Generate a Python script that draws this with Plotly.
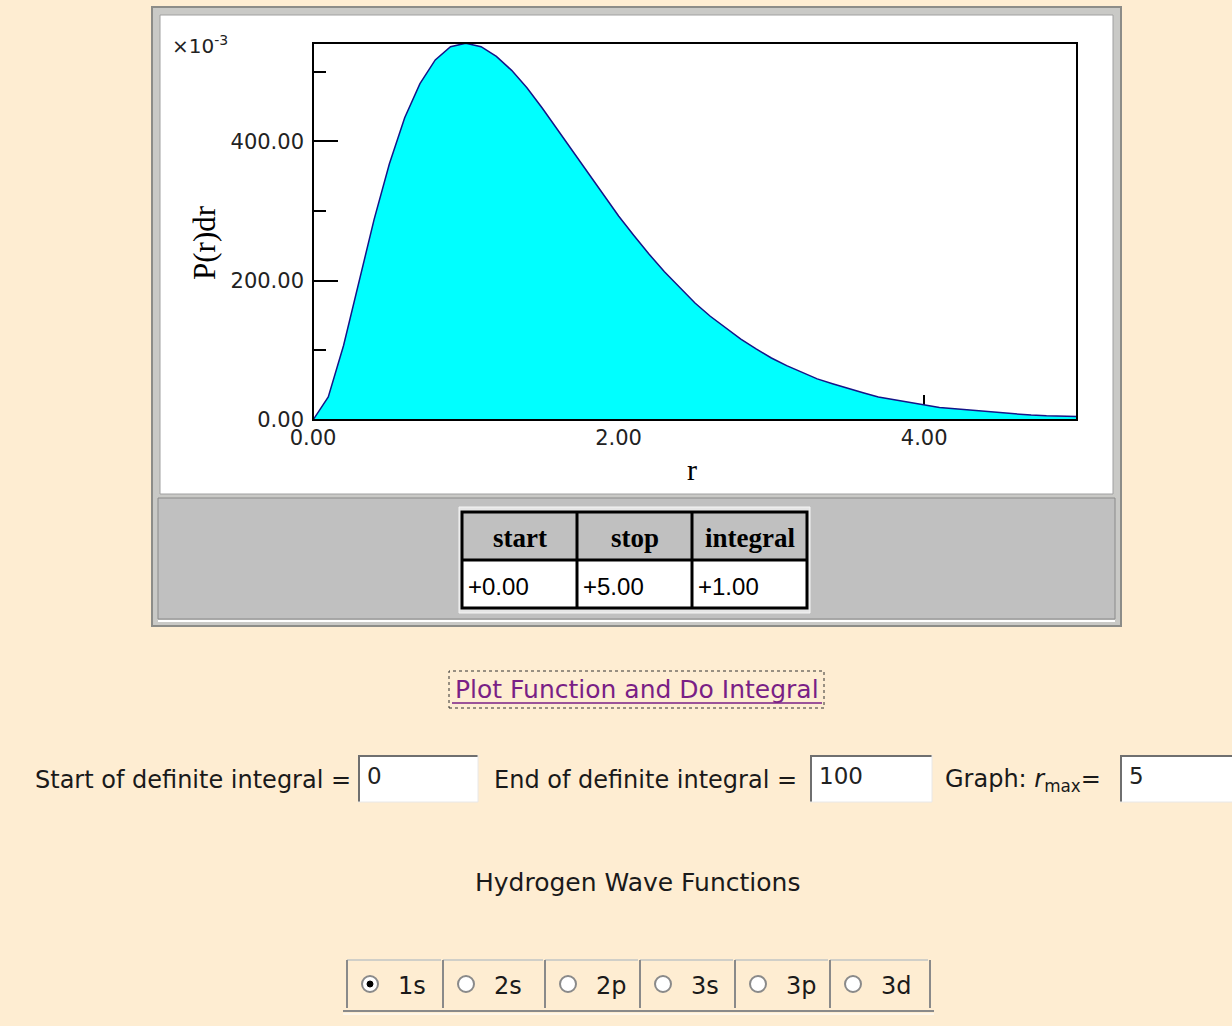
import plotly.graph_objects as go

# Radial probability P(r)dr for the hydrogen 1s state, in units of 1e-3
r_values = [0.0, 0.1, 0.2, 0.3, 0.4, 0.5, 0.6, 0.7, 0.8, 0.9,
            1.0, 1.1, 1.2, 1.3, 1.4, 1.5, 1.6, 1.7, 1.8, 1.9,
            2.0, 2.1, 2.2, 2.3, 2.4, 2.5, 2.6, 2.7, 2.8, 2.9,
            3.0, 3.1, 3.2, 3.3, 3.4, 3.5, 3.6, 3.7, 3.8, 3.9,
            4.0, 4.1, 4.2, 4.3, 4.4, 4.5, 4.6, 4.7, 4.8, 4.9, 5.0]
p_values = [0, 33, 107, 198, 288, 368, 434, 483, 517, 536,
            541, 536, 522, 502, 477, 448, 417, 386, 354, 323,
            293, 265, 238, 213, 190, 168, 149, 132, 116, 102,
            89, 78, 68, 59, 52, 45, 39, 33, 29, 25,
            21, 18, 16, 14, 12, 10, 9, 7, 6, 5, 5]

x_ticks = [0, 2, 4]
x_tick_labels = ["0.00", "2.00", "4.00"]
x_minor = [1, 3, 5]
y_ticks = [0, 200, 400]
y_tick_labels = ["0.00", "200.00", "400.00"]
y_minor = [100, 300, 500]
y_top = 541.3

table_header = ["start", "stop", "integral"]
table_row = ["+0.00", "+5.00", "+1.00"]
states = ["1s", "2s", "2p", "3s", "3p", "3d"]
selected_state = "1s"
start_value, end_value, rmax_value = "0", "100", "5"

W, H = 1232, 1026
BG = "#FEEDD2"
SANS = "DejaVu Sans"
SERIF = "Liberation Serif"


def px(x):
    return x / W


def py(y):
    return 1 - y / H


shapes = []
annotations = []


def rect(x0, y0, x1, y1, fill=None, line=None, lw=1, layer="below", dash=None):
    d = dict(type="rect", xref="paper", yref="paper",
             x0=px(x0), x1=px(x1), y0=py(y1), y1=py(y0),
             fillcolor=fill if fill else "rgba(0,0,0,0)",
             line=dict(color=line if line else "rgba(0,0,0,0)", width=lw if line else 0),
             layer=layer)
    if dash and line:
        d["line"]["dash"] = dash
    shapes.append(d)


def hline(x0, x1, y, color, lw=1, layer="above", dash=None):
    d = dict(type="line", xref="paper", yref="paper", x0=px(x0), x1=px(x1),
             y0=py(y), y1=py(y), line=dict(color=color, width=lw), layer=layer)
    if dash:
        d["line"]["dash"] = dash
    shapes.append(d)


def vline(x, y0, y1, color, lw=1, layer="above", dash=None):
    d = dict(type="line", xref="paper", yref="paper", x0=px(x), x1=px(x),
             y0=py(y0), y1=py(y1), line=dict(color=color, width=lw), layer=layer)
    if dash:
        d["line"]["dash"] = dash
    shapes.append(d)


def text(x, y, s, size=20, family=SANS, color="#1a1a1a", xanchor="left",
         yanchor="middle", textangle=0):
    annotations.append(dict(xref="paper", yref="paper", x=px(x), y=py(y), text=s,
                            showarrow=False, xanchor=xanchor, yanchor=yanchor,
                            textangle=textangle,
                            font=dict(size=size, family=family, color=color)))


# Applet frame: bevelled outer border, white plot panel, grey table panel
rect(152, 7, 1121, 626, fill="#c9c9c6", line="#8c8c88", lw=2)
rect(160, 15, 1113, 494, fill="white", line="#a0a0a0", lw=1)
rect(158, 498, 1115, 619, fill="#c0c0c0", line="#8a8a8a", lw=1)
hline(158, 1115, 621, "#ffffff", 2, layer="below")

# Results table
rect(459, 507, 810, 613, fill="#e6e6e6", line="#f4f4f4", lw=1)
rect(462, 512, 807, 560, fill="#c0c0c0")
rect(462, 560, 807, 608, fill="white")
rect(462, 512, 807, 608, line="black", lw=3, layer="above")
hline(462, 807, 560, "black", 3)
vline(577, 512, 608, "black", 3)
vline(692, 512, 608, "black", 3)
col_centers = [519.5, 634.5, 749.5]
col_lefts = [466, 581, 696]
for cx, h in zip(col_centers, table_header):
    text(cx, 538, "<b>" + h + "</b>", size=27, family=SERIF, color="black",
         xanchor="center")
for lx, v in zip(col_lefts, table_row):
    text(lx, 586, v, size=24, family="Liberation Sans", color="black")

# Link button with dotted focus outline
rect(449, 671, 824, 708, line="#333333", lw=1, layer="above", dash="dot")
text(637, 689, "Plot Function and Do Integral", size=25, color="#7a1f86",
     xanchor="center")
hline(452, 822, 703, "#7a1f86", 1.5)


# Input fields
def input_box(x0, x1, value):
    rect(x0, 755, x1, 802, fill="white", layer="below")
    hline(x0, x1, 756, "#6f6f6f", 2)
    vline(x0 + 1, 755, 802, "#6f6f6f", 2)
    hline(x0, x1, 802, "#e8e8e8", 1)
    vline(x1, 755, 802, "#e8e8e8", 1)
    text(x0 + 7, 776, value, size=23, color="#222222")


text(33, 780, "Start of definite integral =", size=24)
input_box(358, 478, start_value)
text(492, 780, "End of definite integral =", size=24)
input_box(810, 932, end_value)
text(943, 780, "Graph: <i>r</i><sub>max</sub>=", size=24)
input_box(1120, 1250, rmax_value)

text(637, 882, "Hydrogen Wave Functions", size=25, xanchor="center")

# Radio button group
cell_edges = [347, 443, 545, 640, 735, 830, 930]
cell_top, cell_bot = 960, 1008
hline(343, 934, 1011, "#8a8a8a", 2)
hline(343, 934, 1014, "#ffffff", 1)
for i, s in enumerate(states):
    x0, x1 = cell_edges[i], cell_edges[i + 1]
    hline(x0, x1 - 2, cell_top, "#d0cfc8", 2)
    vline(x0, cell_top, cell_bot, "#8a8a8a", 2)
    cx = x0 + 23
    shapes.append(dict(type="circle", xref="paper", yref="paper",
                       x0=px(cx - 8), x1=px(cx + 8), y0=py(984 + 8), y1=py(984 - 8),
                       fillcolor="white", line=dict(color="#8a8a8a", width=2),
                       layer="above"))
    if s == selected_state:
        shapes.append(dict(type="circle", xref="paper", yref="paper",
                           x0=px(cx - 3), x1=px(cx + 3), y0=py(984 + 3), y1=py(984 - 3),
                           fillcolor="black", line=dict(color="black", width=1),
                           layer="above"))
    text(cx + 26, 986, s, size=24)
vline(930, cell_top, cell_bot, "#8a8a8a", 2)

# Plot frame and labels
shapes.append(dict(type="rect", xref="x domain", yref="y domain", x0=0, x1=1, y0=0, y1=1,
                   line=dict(color="black", width=2), layer="above"))
text(170, 45, "×10<sup>-3</sup>", size=20, color="#222222")
text(205, 243, "P(r)dr", size=31, family=SERIF, color="black", xanchor="center",
     textangle=-90)
text(692, 470, "r", size=30, family=SERIF, color="black", xanchor="center")

fig = go.Figure()
fig.add_trace(go.Scatter(
    x=r_values, y=p_values, mode="lines", fill="tozeroy",
    fillcolor="#00FFFF", line=dict(color="#141488", width=1.5),
    hoverinfo="skip", showlegend=False))

tick_font = dict(family=SANS, size=21, color="#222222")
fig.update_layout(
    width=W, height=H, autosize=False,
    margin=dict(l=0, r=0, t=0, b=0, pad=0),
    paper_bgcolor=BG, plot_bgcolor="white",
    showlegend=False,
    shapes=shapes, annotations=annotations,
    xaxis=dict(domain=[px(313), px(1077)], range=[0, 5], showgrid=False,
               automargin=False, ticklabelstandoff=3,
               zeroline=False, showline=False, ticks="inside", ticklen=25,
               tickwidth=2, tickcolor="black", tickvals=x_ticks,
               ticktext=x_tick_labels, tickfont=tick_font, layer="below traces",
               minor=dict(tickvals=x_minor, ticks="inside", ticklen=13,
                          tickwidth=2, tickcolor="black")),
    yaxis=dict(domain=[py(420), py(43)], range=[0, y_top], showgrid=False,
               automargin=False, ticklabelstandoff=8,
               zeroline=False, showline=False, ticks="inside", ticklen=25,
               tickwidth=2, tickcolor="black", tickvals=y_ticks,
               ticktext=y_tick_labels, tickfont=tick_font, layer="below traces",
               minor=dict(tickvals=y_minor, ticks="inside", ticklen=13,
                          tickwidth=2, tickcolor="black")),
)

fig.write_html("out.html")
